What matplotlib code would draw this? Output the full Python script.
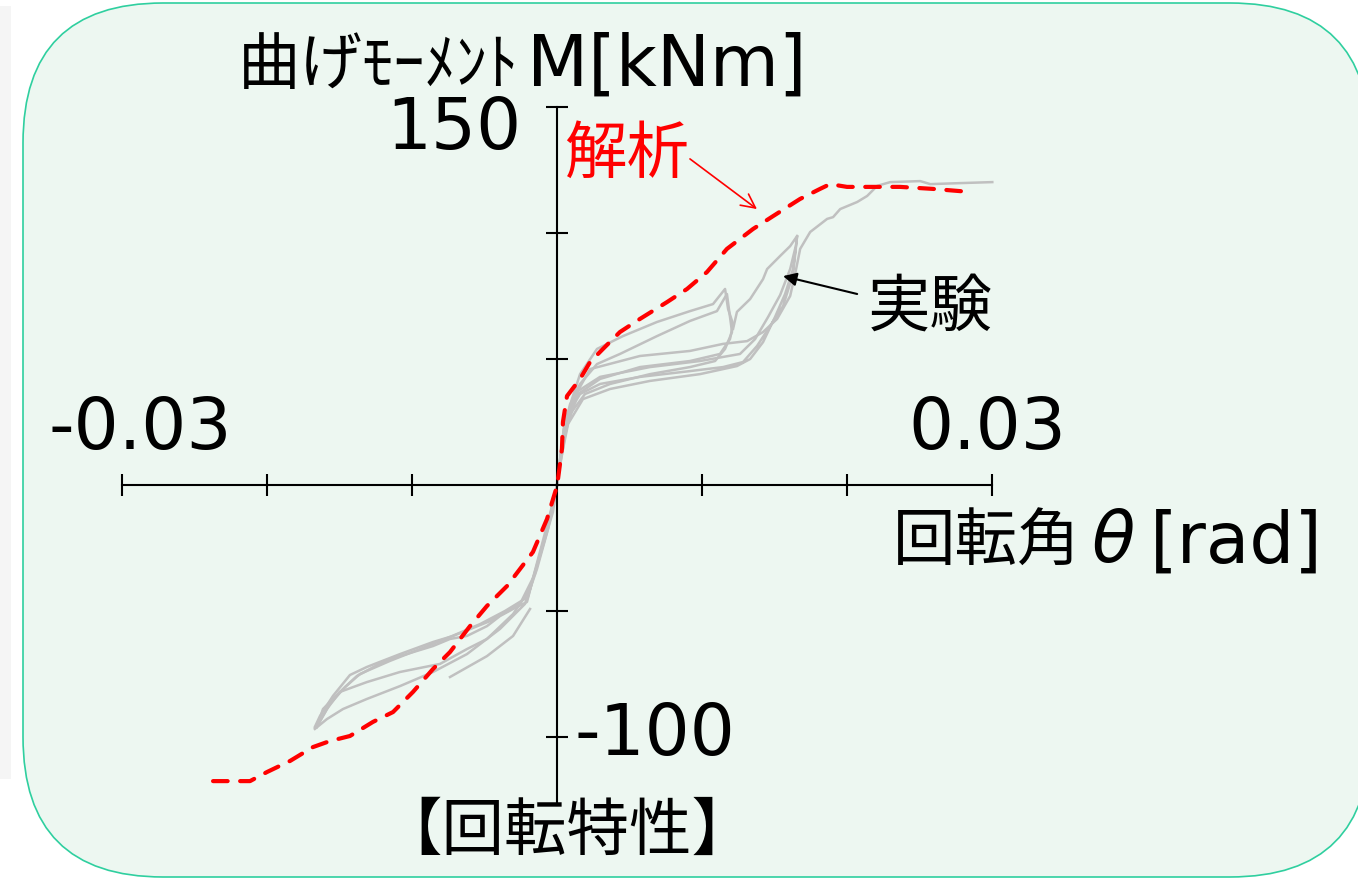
import matplotlib
matplotlib.use("Agg")
import matplotlib.pyplot as plt
from matplotlib.patches import FancyBboxPatch, Rectangle
from matplotlib.transforms import IdentityTransform

plt.rcParams['font.family'] = ['Noto Sans CJK JP', 'DejaVu Sans']

# analysis (red dashed)
theta_ana = [-0.02372, -0.02117, -0.02, -0.01841, -0.01683, -0.01566, -0.01428, -0.01269,
             -0.01131, -0.00993, -0.00855, -0.00738, -0.006, -0.00483, -0.00345, -0.00166,
             -0.00069, 0.0, 0.00007, 0.00034, 0.00041, 0.00069, 0.00159, 0.00228, 0.00317,
             0.00434, 0.00572, 0.00759, 0.00897, 0.01034, 0.01172, 0.01352, 0.0149, 0.01676,
             0.01814, 0.01883, 0.02, 0.02366, 0.02593, 0.02848]
m_ana = [-117.5, -117.5, -113.9, -109.5, -104.0, -101.6, -99.6, -94.0,
         -90.1, -82.1, -73.0, -66.3, -56.0, -48.0, -40.1, -26.6,
         -13.5, -0.4, 2.4, 14.3, 25.0, 35.3, 42.1, 48.8, 54.0,
         60.7, 65.9, 72.6, 77.8, 84.5, 93.7, 101.6, 106.7, 113.5,
         117.5, 119.4, 118.3, 118.3, 117.5, 116.3]

# experiment (gray), several loops
theta_exp1 = [0, 0.00021, 0.00048, 0.0009, 0.00159, 0.00276, 0.00434, 0.0069, 0.00917, 0.01103,
              0.01172, 0.01193, 0.01207, 0.01159, 0.0109, 0.00917, 0.00641, 0.00366, 0.00193,
              0.0009, 0.00034, 0]
m_exp1 = [0, 10.3, 22.2, 32.1, 40.1, 48.0, 52.0, 59.1, 65.1, 69.0,
          75.8, 66.7, 60.7, 54.0, 49.2, 46.8, 44.0, 40.1, 36.1,
          28.2, 14.3, 0]

theta_exp2 = [0, 0.00041, 0.00103, 0.00159, 0.00276, 0.00455, 0.0069, 0.00917, 0.01076, 0.01159,
              0.0118, 0.01214, 0.01193, 0.01124, 0.00917, 0.00572, 0.00297, 0.00145, 0.00062, 0.00007]
m_exp2 = [0, 18.3, 34.1, 44.0, 54.0, 59.1, 64.7, 69.0, 71.8, 77.8,
          69.8, 63.9, 57.9, 52.0, 49.2, 46.8, 42.1, 36.1, 22.2, 2.4]

theta_exp3 = [0, 0.00034, 0.00076, 0.00159, 0.00297, 0.00572, 0.00917, 0.01145, 0.01283, 0.0138,
              0.0147, 0.01559, 0.01628, 0.01656, 0.01628, 0.01573, 0.01504, 0.01421, 0.01332,
              0.01241, 0.00986, 0.00641, 0.00366, 0.00179, 0.00076, 0.00014]
m_exp3 = [0, 14.3, 28.2, 36.1, 40.1, 42.9, 45.2, 46.8, 48.8, 55.2,
          63.1, 71.0, 83.7, 98.8, 85.7, 75.8, 66.7, 56.7, 50.0,
          47.2, 44.0, 41.3, 38.1, 34.1, 24.2, 6.3]

theta_exp4 = [0, 0.00048, 0.00131, 0.00228, 0.00572, 0.00917, 0.01145, 0.01311, 0.01421, 0.01518,
              0.01608, 0.01642, 0.01677, 0.01746, 0.01863, 0.01904, 0.01953, 0.0207, 0.02139,
              0.02208, 0.02298, 0.02505, 0.02574, 0.02781, 0.03002]
m_exp4 = [0, 22.2, 36.1, 46.0, 51.2, 53.2, 56.0, 57.1, 60.7, 65.9,
          75.0, 83.7, 93.7, 100.4, 105.6, 106.3, 109.5, 112.3, 114.7,
          118.7, 120.2, 120.6, 119.4, 119.8, 120.2]

theta_exp5 = [0.01214, 0.01241, 0.01332, 0.01421, 0.01449, 0.01539, 0.01608, 0.01656]
m_exp5 = [61.9, 68.7, 73.8, 81.7, 85.7, 90.9, 94.8, 98.8]

theta_exp6 = [0, -0.00028, -0.00097, -0.00166, -0.00207, -0.00303, -0.00393, -0.00483, -0.00621,
              -0.00738, -0.00855, -0.01083, -0.012, -0.0138, -0.01497, -0.01587, -0.01656]
m_exp6 = [0, -10.7, -24.2, -37.3, -46.4, -49.2, -52.0, -56.0, -59.9,
          -61.1, -63.9, -67.9, -70.2, -75.8, -82.1, -88.9, -96.0]

theta_exp7 = [0, -0.00048, -0.00117, -0.00186, -0.00303, -0.00483, -0.00621, -0.00807, -0.01083,
              -0.01311, -0.01497, -0.01614, -0.01656]
m_exp7 = [0, -13.5, -27.4, -41.3, -51.2, -61.1, -65.1, -71.0, -74.2,
          -78.2, -82.1, -88.9, -96.0]

theta_exp8 = [0, -0.00062, -0.00138, -0.00221, -0.00393, -0.00621, -0.00855, -0.01083, -0.01311,
              -0.01476, -0.01587, -0.0167]
m_exp8 = [0, -17.5, -33.3, -47.2, -57.1, -67.1, -74.2, -79.8, -84.9,
          -88.9, -92.9, -96.8]

theta_exp9 = [-0.00186, -0.00303, -0.00483, -0.00738]
m_exp9 = [-49.2, -59.9, -67.9, -76.2]

theta_exp10 = [0, -0.00069, -0.00152, -0.00255, -0.00462, -0.00717, -0.00855, -0.01083, -0.01311,
               -0.01428, -0.01545, -0.01635, -0.0167]
m_exp10 = [0, -17.5, -35.3, -47.2, -54.0, -59.9, -62.3, -67.1, -72.2,
           -75.4, -83.7, -91.7, -96.0]

theta_exp11 = [0, 0.00055, 0.00145, 0.00297, 0.00641, 0.00986, 0.01262, 0.01366, 0.01456,
               0.01539, 0.01608, 0.01642]
m_exp11 = [0, 26.2, 37.3, 42.9, 46.8, 49.2, 52.0, 57.9, 66.7,
           75.4, 85.7, 93.7]

theta_exp12 = [0, -0.00048, -0.00131, -0.002, -0.00359, -0.00531, -0.00738, -0.00945, -0.01152,
               -0.01359, -0.01462, -0.01566, -0.01635]
m_exp12 = [0, -11.5, -29.4, -44.4, -50.0, -55.2, -60.3, -65.1, -69.8,
           -75.0, -80.2, -86.9, -93.7]

exp_theta = [theta_exp1, theta_exp2, theta_exp3, theta_exp4, theta_exp5, theta_exp6,
             theta_exp7, theta_exp8, theta_exp9, theta_exp10, theta_exp11, theta_exp12]
exp_m = [m_exp1, m_exp2, m_exp3, m_exp4, m_exp5, m_exp6,
         m_exp7, m_exp8, m_exp9, m_exp10, m_exp11, m_exp12]

x_ticks = [-0.03, -0.02, -0.01, 0.01, 0.02, 0.03]
y_ticks = [-100, -50, 50, 100, 150]

W, H = 1358, 879
fig = plt.figure(figsize=(W / 100, H / 100), dpi=100)
fig.patch.set_facecolor('white')

# left gray strip and rounded panel (pixel coordinates, y from bottom)
fig.patches.append(Rectangle((0, H - 780), 11, 773, transform=IdentityTransform(),
                             facecolor='#f5f5f5', edgecolor='none', zorder=-2))
fig.patches.append(FancyBboxPatch((23, 1), 1347, 874,
                                  boxstyle="round,pad=0,rounding_size=140",
                                  transform=IdentityTransform(), facecolor='#edf7f1',
                                  edgecolor='#2fcf9f', linewidth=1.2, zorder=-1))

ax = fig.add_axes([0, 0, 1, 1])
ax.set_zorder(2)
ax.patch.set_alpha(0)
ax.set_xlim(-0.038414, 0.055241)
ax.set_ylim(-155.95, 192.86)

for s in ['top', 'right']:
    ax.spines[s].set_visible(False)
ax.spines['left'].set_position(('data', 0))
ax.spines['bottom'].set_position(('data', 0))
ax.spines['left'].set_bounds(-127, 150)
ax.spines['bottom'].set_bounds(-0.03, 0.03)
ax.spines['left'].set_linewidth(1.5)
ax.spines['bottom'].set_linewidth(1.5)
ax.set_xticks(x_ticks)
ax.set_yticks(y_ticks)
ax.tick_params(direction='inout', length=16, width=1.5, labelbottom=False, labelleft=False)

for t, m in zip(exp_theta, exp_m):
    ax.plot(t, m, color='#c0c0c0', lw=1.8, zorder=2)

ax.plot(theta_ana, m_ana, color='#ff0000', lw=3, dashes=(3.5, 3), dash_capstyle='round', zorder=3)


def px(x, y):
    return x / W, 1 - y / H


num_font = ['DejaVu Sans', 'Noto Sans CJK JP']
fs_num = 51
fs = 45
fig.text(*px(140, 430), '-0.03', fontsize=fs_num, family=num_font, ha='center', va='center')
fig.text(*px(987, 430), '0.03', fontsize=fs_num, family=num_font, ha='center', va='center')
fig.text(*px(522, 130), '150', fontsize=fs_num, family=num_font, ha='right', va='center')
fig.text(*px(575, 736), '-100', fontsize=fs_num, family=num_font, ha='left', va='center')

fig.text(*px(238, 66), '曲げﾓｰﾒﾝﾄ', fontsize=fs, ha='left', va='center')
fig.text(*px(527, 66), 'M[kNm]', fontsize=fs_num, family=num_font, ha='left', va='center')
fig.text(*px(893, 543), '回転角', fontsize=fs, ha='left', va='center')
fig.text(*px(1092, 543), 'θ', fontsize=fs_num, family=num_font, style='italic', ha='left', va='center')
fig.text(*px(1150, 543), '[rad]', fontsize=fs_num, family=num_font, ha='left', va='center')
fig.text(*px(567, 832), '【回転特性】', fontsize=fs, ha='center', va='center')

fig.text(*px(627, 155), '解析', fontsize=fs, color='#ff0000', ha='center', va='center')
fig.text(*px(930, 308), '実験', fontsize=fs, color='black', ha='center', va='center')
ax.annotate('', xy=(0.01379, 109.5), xytext=(0.00917, 129.4),
            arrowprops=dict(arrowstyle='->', color='#ff0000', lw=1.2, mutation_scale=25,
                            shrinkA=0, shrinkB=0))
ax.annotate('', xy=(0.01559, 82.9), xytext=(0.0207, 75.8),
            arrowprops=dict(arrowstyle='-|>', color='black', lw=1.5, mutation_scale=20,
                            shrinkA=0, shrinkB=0))

fig.savefig('out.png', dpi=100)
